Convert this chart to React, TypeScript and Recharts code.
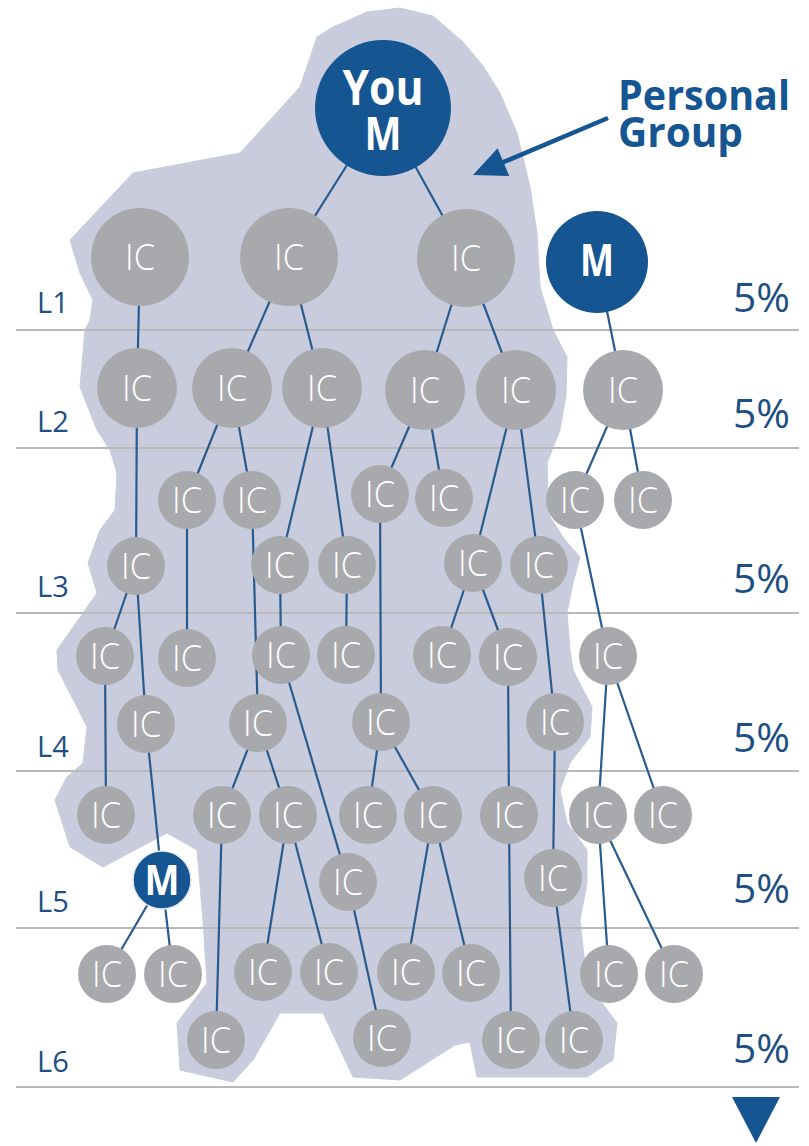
import React from 'react';
import { ScatterChart, Scatter, XAxis, YAxis } from 'recharts';

const CHART_W = 809;
const CHART_H = 1146;

// ---------- nodes ----------
const nodeLabels = [
  'You M',
  'IC', 'IC', 'IC', 'M',
  'IC', 'IC', 'IC', 'IC', 'IC', 'IC',
  'IC', 'IC', 'IC', 'IC', 'IC', 'IC',
  'IC', 'IC', 'IC', 'IC', 'IC',
  'IC', 'IC', 'IC', 'IC', 'IC', 'IC', 'IC',
  'IC', 'IC', 'IC', 'IC',
  'IC', 'IC', 'IC', 'IC', 'IC', 'IC', 'IC', 'IC',
  'M', 'IC', 'IC',
  'IC', 'IC', 'IC', 'IC', 'IC', 'IC', 'IC', 'IC',
  'IC', 'IC', 'IC', 'IC',
];
const nodeKinds = [
  'you',
  'ic1', 'ic1', 'ic1', 'mBig',
  'ic2', 'ic2', 'ic2', 'ic2', 'ic2', 'ic2',
  'ic3', 'ic3', 'ic3', 'ic3', 'ic3', 'ic3',
  'ic3', 'ic3', 'ic3', 'ic3', 'ic3',
  'ic3', 'ic3', 'ic3', 'ic3', 'ic3', 'ic3', 'ic3',
  'ic3', 'ic3', 'ic3', 'ic3',
  'ic3', 'ic3', 'ic3', 'ic3', 'ic3', 'ic3', 'ic3', 'ic3',
  'mSmall', 'ic3', 'ic3',
  'ic3', 'ic3', 'ic3', 'ic3', 'ic3', 'ic3', 'ic3', 'ic3',
  'ic3', 'ic3', 'ic3', 'ic3',
];
const nodeX = [
  383,
  140, 289, 466, 597,
  137, 232, 322, 425, 516, 623,
  187, 252, 380, 444, 575, 643,
  136, 280, 347, 473, 539,
  105, 187, 281, 346, 442, 508, 608,
  146, 258, 381, 555,
  106, 222, 288, 368, 433, 509, 598, 663,
  162, 348, 553,
  107, 173, 263, 329, 406, 471, 609, 674,
  216, 382, 511, 574,
];
const nodeY = [
  108,
  257, 257, 258, 262,
  388, 388, 388, 390, 390, 390,
  500, 500, 494, 498, 500, 500,
  566, 565, 565, 563, 565,
  656, 658, 655, 655, 655, 657, 656,
  724, 723, 722, 722,
  815, 815, 815, 815, 815, 815, 815, 815,
  880, 882, 878,
  974, 974, 972, 972, 972, 973, 974, 974,
  1040, 1038, 1040, 1040,
];

// ---------- edges (node index pairs) ----------
const edgeFrom = [
  0, 0,
  1, 2, 2, 3, 3, 4,
  6, 6, 8, 8, 10, 10,
  5, 7, 7, 9, 9,
  17, 17, 11, 18, 19, 20, 20, 15,
  12, 13, 21,
  22, 30, 30, 31, 31, 27, 28, 28,
  29, 24, 32,
  41, 41, 35, 35, 37, 37, 39, 39,
  34, 42, 38, 43,
];
const edgeTo = [
  2, 3,
  5, 6, 7, 8, 9, 10,
  11, 12, 13, 14, 15, 16,
  17, 18, 19, 20, 21,
  22, 29, 23, 24, 25, 26, 27, 28,
  30, 31, 32,
  33, 34, 35, 36, 37, 38, 39, 40,
  41, 42, 43,
  44, 45, 46, 47, 48, 49, 50, 51,
  52, 53, 54, 55,
];

// ---------- levels ----------
const levelNames = ['L1', 'L2', 'L3', 'L4', 'L5', 'L6'];
const levelPercents = ['5%', '5%', '5%', '5%', '5%', '5%'];
const levelLineY = [330, 448, 613, 771, 928, 1087];
const levelLabelY = [313, 432, 597, 757, 912, 1072];
const levelPctY = [312, 428, 593, 752, 903, 1063];
const levelLineStartX = 16;
const levelLineEndX = 799;
const levelLabelX = 37;
const levelPctX = 733;

// ---------- personal group outline ----------
const blobX = [
  333, 367, 400, 433, 463, 483, 500, 517, 530, 537, 540, 550, 553, 567, 566, 560, 547, 548, 550, 565,
  580, 573, 567, 570, 573, 592, 590, 570, 560, 567, 587, 587, 580, 587, 617, 613, 587, 477, 470, 455,
  400, 353, 323, 280, 253, 233, 180, 177, 207, 203, 197, 167, 103, 70, 55, 67, 83, 87, 77, 58,
  57, 83, 97, 88, 100, 115, 117, 110, 97, 80, 85, 90, 93, 80, 70, 133, 240, 300, 317,
];
const blobY = [
  27, 12, 8, 16, 42, 66, 93, 133, 187, 233, 287, 320, 330, 357, 395, 430, 463, 490, 517, 540,
  557, 583, 613, 650, 670, 707, 737, 763, 790, 823, 850, 883, 920, 983, 1023, 1060, 1077, 1077, 1042, 1045,
  1080, 1077, 1013, 1013, 1060, 1082, 1070, 1023, 983, 920, 850, 833, 867, 847, 800, 777, 763, 727, 707, 670,
  650, 613, 593, 563, 530, 510, 473, 450, 430, 387, 330, 320, 300, 273, 240, 173, 153, 87, 37,
];

// ---------- callout ----------
const calloutText = ['Personal', 'Group'];
const calloutX = 618;
const calloutY = 110;
const calloutLineGap = 37;
const calloutWidths = [172, 125];
const arrowX = [608, 473];
const arrowY = [118, 175];
const moreMarker = { x: 756, y: 1120 };

// ---------- styles ----------
const BLUE = '#155592';
const GRAY = '#a8a9ac';
const BLOB = '#c9ccdd';
const EDGE = '#2a5b8e';
const RULE = '#b9b9bb';
const TEXT_BLUE = '#1d4f82';
const FONT = '"Open Sans", "DejaVu Sans", sans-serif';

const KIND: Record<string, { r: number; fill: string }> = {
  you: { r: 68, fill: BLUE },
  mBig: { r: 51, fill: BLUE },
  mSmall: { r: 29, fill: BLUE },
  ic1: { r: 49, fill: GRAY },
  ic2: { r: 40, fill: GRAY },
  ic3: { r: 29, fill: GRAY },
};

// ---------- data built for the library ----------
const nodeData = nodeLabels.map((label, i) => ({ x: nodeX[i], y: nodeY[i], label, kind: nodeKinds[i] }));
const edgeData = edgeFrom.flatMap((f, i) => [
  { x: nodeX[f], y: nodeY[f] },
  { x: nodeX[edgeTo[i]], y: nodeY[edgeTo[i]] },
]);
const ruleData = levelLineY.flatMap((y) => [
  { x: levelLineStartX, y },
  { x: levelLineEndX, y },
]);
const blobData = blobX.map((x, i) => ({ x, y: blobY[i] }));
const levelLabelData = levelNames.map((t, i) => ({ x: levelLabelX, y: levelLabelY[i], text: t }));
const levelPctData = levelPercents.map((t, i) => ({ x: levelPctX, y: levelPctY[i], text: t }));
const calloutData = [{ x: calloutX, y: calloutY }];
const arrowData = arrowX.map((x, i) => ({ x, y: arrowY[i] }));
const markerData = [moreMarker];

const Empty = () => <g />;

const segmentLine = (stroke: string, width: number) => (props: any) => {
  const pts = props.points || [];
  let d = '';
  for (let i = 0; i + 1 < pts.length; i += 2) {
    d += `M${pts[i].x},${pts[i].y}L${pts[i + 1].x},${pts[i + 1].y}`;
  }
  return <path d={d} stroke={stroke} strokeWidth={width} fill="none" />;
};

const blobLine = (props: any) => {
  const pts = props.points || [];
  const d = 'M' + pts.map((p: any) => `${p.x},${p.y}`).join('L') + 'Z';
  return <path d={d} fill={BLOB} stroke={BLOB} strokeWidth={1} strokeLinejoin="round" />;
};

const arrowLine = (props: any) => {
  const pts = props.points || [];
  if (pts.length < 2) return <g />;
  const [a, b] = pts;
  const dx = b.x - a.x;
  const dy = b.y - a.y;
  const len = Math.sqrt(dx * dx + dy * dy) || 1;
  const ux = dx / len;
  const uy = dy / len;
  const headLen = 33;
  const headHalf = 15;
  const bx = b.x - ux * headLen;
  const by = b.y - uy * headLen;
  const px = -uy;
  const py = ux;
  return (
    <g>
      <path d={`M${a.x},${a.y}L${bx + ux * 2},${by + uy * 2}`} stroke={BLUE} strokeWidth={4.5} fill="none" />
      <polygon
        points={`${b.x},${b.y} ${bx + px * headHalf},${by + py * headHalf} ${bx - px * headHalf},${by - py * headHalf}`}
        fill={BLUE}
      />
    </g>
  );
};

const NodeShape = (props: any) => {
  const { cx, cy, payload } = props;
  const st = KIND[payload.kind];
  if (payload.kind === 'you') {
    const [l1, l2] = String(payload.label).split(' ');
    return (
      <g>
        <circle cx={cx} cy={cy} r={st.r} fill={st.fill} />
        <text textAnchor="middle" fill="#fff" fontFamily={FONT} fontWeight={700}>
          <tspan x={cx} y={cy - 3} fontSize={49} textLength={81} lengthAdjust="spacingAndGlyphs">{l1}</tspan>
          <tspan x={cx} y={cy + 42} fontSize={46} textLength={37} lengthAdjust="spacingAndGlyphs">{l2}</tspan>
        </text>
      </g>
    );
  }
  if (payload.kind === 'mBig' || payload.kind === 'mSmall') {
    const big = payload.kind === 'mBig';
    return (
      <g>
        <circle cx={cx} cy={cy} r={st.r} fill={st.fill} stroke={big ? 'none' : '#e9ebf3'} strokeWidth={big ? 0 : 1.5} />
        <text x={cx} y={cy + (big ? 14 : 15)} textAnchor="middle" fill="#fff" fontFamily={FONT} fontWeight={700}
          fontSize={big ? 45 : 41} textLength={big ? 34 : 35} lengthAdjust="spacingAndGlyphs">{payload.label}</text>
      </g>
    );
  }
  return (
    <g>
      <circle cx={cx} cy={cy} r={st.r} fill={st.fill} />
      <text x={cx} y={cy + 13} textAnchor="middle" fill="#fff" fontFamily={FONT} fontWeight={300}
        fontSize={37} textLength={30} lengthAdjust="spacingAndGlyphs">{payload.label}</text>
    </g>
  );
};

const LevelLabel = (props: any) => (
  <text x={props.cx} y={props.cy} fill={TEXT_BLUE} fontFamily={FONT} fontSize={29}>{props.payload.text}</text>
);

const PctLabel = (props: any) => (
  <text x={props.cx} y={props.cy} fill={TEXT_BLUE} fontFamily={FONT} fontSize={40}
    textLength={57} lengthAdjust="spacingAndGlyphs">{props.payload.text}</text>
);

const CalloutLabel = (props: any) => (
  <text fill={BLUE} fontFamily={FONT} fontWeight={700} fontSize={41}>
    {calloutText.map((t, i) => (
      <tspan key={t} x={props.cx} y={props.cy + i * calloutLineGap} textLength={calloutWidths[i]}
        lengthAdjust="spacingAndGlyphs">{t}</tspan>
    ))}
  </text>
);

const MoreMarker = (props: any) => {
  const { cx, cy } = props;
  return <polygon points={`${cx - 24},${cy - 23} ${cx + 24},${cy - 23} ${cx},${cy + 23}`} fill={BLUE} />;
};

export default function App() {
  return (
    <div style={{ position: 'absolute', left: 0, top: 0, width: CHART_W, height: CHART_H, background: '#fff' }}>
      <ScatterChart width={CHART_W} height={CHART_H} margin={{ top: 0, right: 0, bottom: 0, left: 0 }}>
        <XAxis type="number" dataKey="x" domain={[0, CHART_W]} allowDataOverflow hide />
        <YAxis type="number" dataKey="y" domain={[0, CHART_H]} allowDataOverflow reversed hide />
        <Scatter data={blobData} shape={Empty} line={blobLine} isAnimationActive={false} />
        <Scatter data={ruleData} shape={Empty} line={segmentLine(RULE, 2)} isAnimationActive={false} />
        <Scatter data={edgeData} shape={Empty} line={segmentLine(EDGE, 2.2)} isAnimationActive={false} />
        <Scatter data={nodeData} shape={NodeShape} isAnimationActive={false} />
        <Scatter data={arrowData} shape={Empty} line={arrowLine} isAnimationActive={false} />
        <Scatter data={calloutData} shape={CalloutLabel} isAnimationActive={false} />
        <Scatter data={levelLabelData} shape={LevelLabel} isAnimationActive={false} />
        <Scatter data={levelPctData} shape={PctLabel} isAnimationActive={false} />
        <Scatter data={markerData} shape={MoreMarker} isAnimationActive={false} />
      </ScatterChart>
    </div>
  );
}
